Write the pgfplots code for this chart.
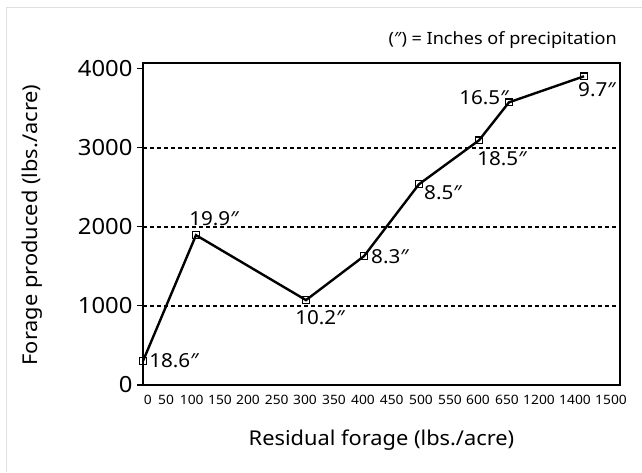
\documentclass[border=0pt]{standalone}
\usepackage{fontspec}
\setmainfont{Noto Sans}[FakeStretch=1.07]
\usepackage{pgfplots}
\usepackage{pgfplotstable}
\pgfplotsset{compat=1.18}
% x: position along the category axis (pixel offset from the left edge of the box)
\pgfplotstableread{
x y dx dy lab
0 303 31 0 18.6″
53 1894 18 16.5 19.9″
163 1073 14 -17.5 10.2″
221 1629 26 -1 8.3″
276 2538 24 -8.5 8.5″
336 3093 23 -18.5 18.5″
366 3573 -25 4.5 16.5″
441 3902 13 -13 9.7″
}\forage
\begin{document}
\begin{tikzpicture}[x=1pt,y=1pt]
\useasboundingbox (0,0) rectangle (642,472);
\draw[black!12, line width=1pt] (6,0) -- (6,464) -- (642,464);
\begin{axis}[
  at={(143pt,87pt)}, anchor=south west,
  scale only axis, width=477pt, height=322pt,
  xmin=0, xmax=477, ymin=0, ymax=4070,
  xtick={4.7,23,48.7,77,105,133.7,162,191,220,248.7,278,307,335,364,396,432,468},
  xticklabels={0,50,100,150,200,250,300,350,400,450,500,550,600,650,1200,1400,1500},
  xtick style={draw=none},
  ytick={0,1000,2000,3000,4000},
  ytick pos=left, tick align=outside, major tick length=6pt,
  ytick style={line width=1.2pt, black},
  scaled y ticks=false,
  /pgf/number format/assume math mode=true,
  /pgf/number format/1000 sep={},
  yticklabel style={font=\fontsize{22.3}{22.3}\selectfont, xshift=-1pt},
  xticklabel style={font=\fontsize{12.9}{12.9}\selectfont, yshift=-1pt},
  axis line style={line width=2.2pt},
  extra y ticks={1000,2000,3000},
  extra y tick labels={},
  extra y tick style={grid=major, major grid style={line width=1.8pt, dash pattern=on 4pt off 3pt, black}, major tick length=0pt},
  xlabel={Residual forage (lbs./acre)},
  ylabel={Forage produced (lbs./acre)},
  xlabel style={at={(axis description cs:0.5,-0.171)}, anchor=center, font=\fontsize{20.4}{20.4}\selectfont},
  ylabel style={at={(axis description cs:-0.2327,0.497)}, anchor=center, font=\fontsize{20.4}{20.4}\selectfont},
  clip=false,
]
\addplot[black, line width=2.4pt, mark=square, mark size=3.3pt,
  mark options={fill=white, line width=1.1pt, solid},
  point meta=explicit symbolic,
  visualization depends on={\thisrow{dx}\as\ndx},
  visualization depends on={\thisrow{dy}\as\ndy},
  nodes near coords,
  nodes near coords style={anchor=center, xshift=\ndx pt, yshift=\ndy pt, font=\fontsize{19.3}{19.3}\selectfont, inner sep=0pt}
] table[x=x, y=y, meta=lab] {\forage};
\end{axis}
\node[anchor=east, font=\fontsize{16.9}{16.9}\selectfont, inner sep=0pt] at (617,432) {(″) = Inches of precipitation};
\end{tikzpicture}
\end{document}
